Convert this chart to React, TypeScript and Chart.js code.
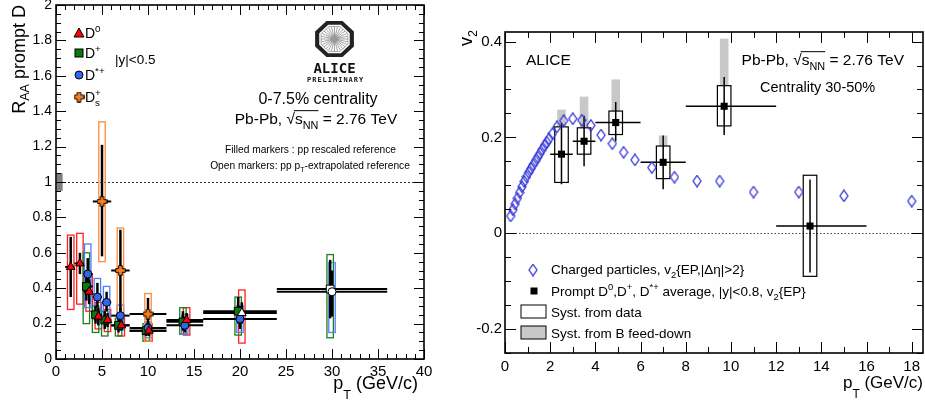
import React, { useEffect, useRef } from "react";
import { Chart, registerables } from "chart.js";

Chart.register(...registerables);

const FONT = "'Liberation Sans', Arial, Helvetica, sans-serif";

// ---------------- Left panel: R_AA prompt D (0-7.5%) ----------------
const leftXTicks = [0, 5, 10, 15, 20, 25, 30, 35, 40];
const leftYTicks = [0, 0.2, 0.4, 0.6, 0.8, 1, 1.2, 1.4, 1.6, 1.8, 2];

const d0Pt = [1.6, 2.6, 3.6, 4.6, 5.6, 7.1, 10.1, 14.2, 20.2];
const d0BinLo = [1, 2, 3, 4, 5, 6, 8, 12, 16];
const d0BinHi = [2, 3, 4, 5, 6, 8, 12, 16, 24];
const d0Raa = [0.52, 0.54, 0.38, 0.24, 0.22, 0.19, 0.16, 0.22, 0.26];
const d0StatLo = [0.35, 0.48, 0.31, 0.19, 0.18, 0.16, 0.13, 0.18, 0.2];
const d0StatHi = [0.69, 0.6, 0.45, 0.29, 0.26, 0.22, 0.19, 0.26, 0.32];
const d0SystLo = [0.28, 0.31, 0.27, 0.17, 0.155, 0.13, 0.1, 0.135, 0.09];
const d0SystHi = [0.7, 0.71, 0.47, 0.32, 0.28, 0.23, 0.2, 0.29, 0.39];
const d0Open = [false, false, false, false, false, false, false, false, true];

const dPlusPt = [3.3, 4.3, 5.3, 6.8, 9.8, 13.8, 19.8, 29.8];
const dPlusBinLo = [3, 4, 5, 6, 8, 12, 16, 24];
const dPlusBinHi = [4, 5, 6, 8, 12, 16, 24, 36];
const dPlusRaa = [0.41, 0.25, 0.22, 0.19, 0.16, 0.21, 0.27, 0.395];
const dPlusStatLo = [0.33, 0.2, 0.17, 0.15, 0.13, 0.16, 0.2, 0.23];
const dPlusStatHi = [0.5, 0.3, 0.27, 0.23, 0.19, 0.27, 0.35, 0.56];
const dPlusSystLo = [0.2, 0.15, 0.13, 0.13, 0.1, 0.14, 0.135, 0.12];
const dPlusSystHi = [0.6, 0.3, 0.27, 0.23, 0.2, 0.29, 0.35, 0.59];
const dPlusOpen = [false, false, false, false, false, false, false, true];

const dStarPt = [3.45, 4.5, 5.5, 7.0, 10.0, 14.0, 20.0, 30.0];
const dStarBinLo = [3, 4, 5, 6, 8, 12, 16, 24];
const dStarBinHi = [4, 5, 6, 8, 12, 16, 24, 36];
const dStarRaa = [0.48, 0.35, 0.32, 0.245, 0.175, 0.19, 0.226, 0.38];
const dStarStatLo = [0.39, 0.29, 0.27, 0.2, 0.14, 0.15, 0.17, 0.24];
const dStarStatHi = [0.57, 0.43, 0.38, 0.29, 0.21, 0.24, 0.3, 0.5];
const dStarSystLo = [0.29, 0.22, 0.2, 0.165, 0.12, 0.14, 0.15, 0.15];
const dStarSystHi = [0.65, 0.455, 0.41, 0.305, 0.21, 0.25, 0.3, 0.545];
const dStarOpen = [false, false, false, false, false, false, false, true];

const dsPt = [5.0, 7.0, 10.0];
const dsBinLo = [4, 6, 8];
const dsBinHi = [6, 8, 12];
const dsRaa = [0.89, 0.5, 0.254];
const dsStatLo = [0.58, 0.27, 0.16];
const dsStatHi = [1.21, 0.73, 0.345];
const dsSystLo = [0.55, 0.25, 0.1];
const dsSystHi = [1.34, 0.74, 0.37];
const dsOpen = [false, false, false];

// ---------------- Right panel: v2 (30-50%) ----------------
const v2XTicks = [0, 2, 4, 6, 8, 10, 12, 14, 16, 18];
const v2YTicks = [-0.2, 0, 0.2, 0.4];

const chPt = [0.25, 0.35, 0.45, 0.55, 0.65, 0.75, 0.85, 0.95, 1.05, 1.15, 1.25, 1.35, 1.45, 1.55, 1.65, 1.75, 1.85, 1.95, 2.1, 2.3, 2.6, 3.0, 3.4, 3.8, 4.25, 4.75, 5.25, 5.75, 6.5, 7.5, 8.5, 9.5, 11, 13, 15, 18];
const chV2 = [0.036, 0.049, 0.061, 0.073, 0.085, 0.097, 0.108, 0.118, 0.127, 0.135, 0.143, 0.151, 0.159, 0.167, 0.175, 0.183, 0.19, 0.197, 0.208, 0.222, 0.235, 0.239, 0.236, 0.225, 0.205, 0.187, 0.169, 0.153, 0.137, 0.117, 0.109, 0.109, 0.086, 0.086, 0.078, 0.067];

const dmPt = [2.5, 3.5, 4.9, 7.0, 9.7, 13.5];
const dmBinLo = [2, 3, 4, 6, 8, 12];
const dmBinHi = [3, 4, 6, 8, 12, 16];
const dmV2 = [0.165, 0.192, 0.231, 0.148, 0.265, 0.015];
const dmStatLo = [0.102, 0.14, 0.192, 0.092, 0.205, -0.082];
const dmStatHi = [0.23, 0.245, 0.274, 0.204, 0.326, 0.112];
const dmSystLo = [0.106, 0.165, 0.206, 0.114, 0.224, -0.09];
const dmSystHi = [0.222, 0.22, 0.255, 0.182, 0.308, 0.121];
const dmFeedDownHi = [0.258, 0.285, 0.321, 0.204, 0.406, 0.121];

// ---------------- helpers ----------------
type Seg = { t: string; k?: "sub" | "sup"; na?: boolean; ol?: boolean; dy?: number };

function segFont(size: number, k?: string) {
  const fs = k ? size * 0.7 : size;
  return `${fs}px ${FONT}`;
}

function drawRich(ctx: CanvasRenderingContext2D, segs: Seg[], x: number, y: number, size: number, align = "left") {
  ctx.save();
  ctx.textAlign = "left";
  ctx.textBaseline = "alphabetic";
  const widths = segs.map((s) => {
    ctx.font = segFont(size, s.k);
    return ctx.measureText(s.t).width;
  });
  let total = 0;
  segs.forEach((s, i) => {
    if (!s.na) total += widths[i];
  });
  let cx = align === "center" ? x - total / 2 : align === "right" ? x - total : x;
  let olStart: number | null = null;
  let olEnd = 0;
  segs.forEach((s, i) => {
    ctx.font = segFont(size, s.k);
    const dy = s.dy !== undefined ? s.dy : s.k === "sub" ? size * 0.3 : s.k === "sup" ? -size * 0.42 : 0;
    ctx.fillText(s.t, cx, y + dy);
    if (s.ol) {
      if (olStart === null) olStart = cx;
      olEnd = cx + widths[i];
    }
    if (!s.na) cx += widths[i];
  });
  if (olStart !== null) {
    ctx.strokeStyle = ctx.fillStyle as string;
    ctx.lineWidth = 1;
    ctx.beginPath();
    ctx.moveTo(olStart - 1, y - size * 0.86);
    ctx.lineTo(olEnd, y - size * 0.86);
    ctx.stroke();
  }
  ctx.restore();
}

function drawFrame(ctx: CanvasRenderingContext2D, a: any, xs: any, ys: any, xMajor: number[], xStep: number, yMajor: number[], yStep: number, majLen: number, minLen: number) {
  ctx.save();
  ctx.strokeStyle = "#000";
  ctx.lineWidth = 1;
  ctx.beginPath();
  const isMaj = (arr: number[], v: number) => arr.some((m) => Math.abs(m - v) < 1e-6);
  for (let k = Math.ceil(xs.min / xStep - 1e-9); k * xStep <= xs.max + 1e-9; k++) {
    const v = k * xStep;
    const L = isMaj(xMajor, v) ? majLen : minLen;
    const px = Math.round(xs.getPixelForValue(v)) + 0.5;
    ctx.moveTo(px, a.bottom);
    ctx.lineTo(px, a.bottom - L);
    ctx.moveTo(px, a.top);
    ctx.lineTo(px, a.top + L);
  }
  for (let k = Math.ceil(ys.min / yStep - 1e-9); k * yStep <= ys.max + 1e-9; k++) {
    const v = k * yStep;
    const L = isMaj(yMajor, v) ? majLen : minLen;
    const py = Math.round(ys.getPixelForValue(v)) + 0.5;
    ctx.moveTo(a.left, py);
    ctx.lineTo(a.left + L, py);
    ctx.moveTo(a.right, py);
    ctx.lineTo(a.right - L, py);
  }
  ctx.stroke();
  ctx.lineWidth = 1.6;
  ctx.strokeRect(a.left, a.top, a.right - a.left, a.bottom - a.top);
  ctx.restore();
}

function makePlus(fill: string) {
  const c = document.createElement("canvas");
  c.width = 11;
  c.height = 11;
  const g = c.getContext("2d")!;
  const m = 5.5, a = 1.8, L = 4.8;
  const pts = [[m - a, m - L], [m + a, m - L], [m + a, m - a], [m + L, m - a], [m + L, m + a], [m + a, m + a], [m + a, m + L], [m - a, m + L], [m - a, m + a], [m - L, m + a], [m - L, m - a], [m - a, m - a]];
  g.beginPath();
  pts.forEach(([px, py], i) => (i ? g.lineTo(px, py) : g.moveTo(px, py)));
  g.closePath();
  g.fillStyle = fill;
  g.fill();
  g.strokeStyle = "#000";
  g.lineWidth = 1;
  g.stroke();
  return c;
}

function makeDiamond(color: string) {
  const c = document.createElement("canvas");
  c.width = 10;
  c.height = 13;
  const g = c.getContext("2d")!;
  g.beginPath();
  g.moveTo(5, 0.8);
  g.lineTo(9, 6.5);
  g.lineTo(5, 12.2);
  g.lineTo(1, 6.5);
  g.closePath();
  g.strokeStyle = color;
  g.lineWidth = 1.3;
  g.stroke();
  return c;
}

const fmt = (v: any) => String(Math.round(Number(v) * 100) / 100);

const RED = "#ff0000", RED_BOX = "#ff2020";
const GREEN = "#0a7a0a", GREEN_BOX = "#1e7d1e";
const BLUE = "#3366ee", BLUE_BOX = "#4d7fff";
const ORANGE = "#ff8020", ORANGE_BOX = "#ff8a3a";
const DIAMOND = "#3838d8";

function leftSpecies() {
  return [
    { pt: d0Pt, lo: d0BinLo, hi: d0BinHi, val: d0Raa, sLo: d0StatLo, sHi: d0StatHi, yLo: d0SystLo, yHi: d0SystHi, box: RED_BOX },
    { pt: dPlusPt, lo: dPlusBinLo, hi: dPlusBinHi, val: dPlusRaa, sLo: dPlusStatLo, sHi: dPlusStatHi, yLo: dPlusSystLo, yHi: dPlusSystHi, box: GREEN_BOX },
    { pt: dStarPt, lo: dStarBinLo, hi: dStarBinHi, val: dStarRaa, sLo: dStarStatLo, sHi: dStarStatHi, yLo: dStarSystLo, yHi: dStarSystHi, box: BLUE_BOX },
    { pt: dsPt, lo: dsBinLo, hi: dsBinHi, val: dsRaa, sLo: dsStatLo, sHi: dsStatHi, yLo: dsSystLo, yHi: dsSystHi, box: ORANGE_BOX },
  ];
}

function drawAliceLogo(ctx: CanvasRenderingContext2D, cx: number, cy: number) {
  ctx.save();
  const oct = (rad: number) => {
    ctx.beginPath();
    for (let k = 0; k < 8; k++) {
      const ang = Math.PI / 8 + (k * Math.PI) / 4;
      const px = cx + rad * Math.cos(ang);
      const py = cy + rad * Math.sin(ang) * 0.93;
      if (k) ctx.lineTo(px, py);
      else ctx.moveTo(px, py);
    }
    ctx.closePath();
  };
  oct(21);
  ctx.fillStyle = "#222";
  ctx.fill();
  oct(16.5);
  ctx.fillStyle = "#fff";
  ctx.fill();
  oct(14.5);
  ctx.strokeStyle = "#777";
  ctx.lineWidth = 0.6;
  ctx.stroke();
  ctx.strokeStyle = "#666";
  ctx.lineWidth = 0.6;
  for (let k = 0; k < 28; k++) {
    const ang = (k * Math.PI * 2) / 28;
    ctx.beginPath();
    ctx.moveTo(cx + 2 * Math.cos(ang), cy + 2 * Math.sin(ang));
    ctx.lineTo(cx + 13.5 * Math.cos(ang), cy + 12.5 * Math.sin(ang));
    ctx.stroke();
  }
  ctx.fillStyle = "#999";
  ctx.beginPath();
  ctx.arc(cx, cy, 2.5, 0, Math.PI * 2);
  ctx.fill();
  ctx.fillStyle = "#111";
  ctx.textAlign = "center";
  ctx.font = "bold 14px 'DejaVu Sans Mono', 'Liberation Mono', monospace";
  ctx.fillText("ALICE", cx, cy + 34);
  ctx.font = "bold 7px 'DejaVu Sans Mono', 'Liberation Mono', monospace";
  const word = "PRELIMINARY";
  const x0 = cx - 28;
  for (let i = 0; i < word.length; i++) ctx.fillText(word[i], x0 + 2.6 + i * 5.2, cy + 43);
  ctx.restore();
}

function makeLeftConfig(plus: HTMLCanvasElement): any {
  const species = leftSpecies();
  const plugin = {
    id: "leftDecor",
    beforeDatasetsDraw(chart: any) {
      const { ctx, chartArea: a } = chart;
      const xs = chart.scales.x, ys = chart.scales.y;
      ctx.save();
      ctx.beginPath();
      ctx.rect(a.left, a.top, a.right - a.left, a.bottom - a.top);
      ctx.clip();
      // unity line
      ctx.setLineDash([2, 2]);
      ctx.strokeStyle = "#333";
      ctx.lineWidth = 1;
      ctx.beginPath();
      const y1 = Math.round(ys.getPixelForValue(1)) + 0.5;
      ctx.moveTo(a.left, y1);
      ctx.lineTo(a.right, y1);
      ctx.stroke();
      ctx.setLineDash([]);
      // normalisation box
      ctx.fillStyle = "#7f7f7f";
      const nx0 = xs.getPixelForValue(0.08), nx1 = xs.getPixelForValue(0.72);
      const ny0 = ys.getPixelForValue(1.05), ny1 = ys.getPixelForValue(0.95);
      ctx.fillRect(nx0, ny0, nx1 - nx0, ny1 - ny0);
      // syst boxes
      ctx.lineWidth = 1.3;
      species.forEach((s) => {
        ctx.strokeStyle = s.box;
        s.pt.forEach((p, i) => {
          const bx0 = xs.getPixelForValue(p - 0.35), bx1 = xs.getPixelForValue(p + 0.35);
          const by0 = ys.getPixelForValue(s.yHi[i]), by1 = ys.getPixelForValue(s.yLo[i]);
          ctx.strokeRect(bx0, by0, bx1 - bx0, by1 - by0);
        });
      });
      // error bars
      ctx.strokeStyle = "#000";
      species.forEach((s) => {
        s.pt.forEach((p, i) => {
          const py = ys.getPixelForValue(s.val[i]);
          ctx.lineWidth = 2;
          ctx.beginPath();
          ctx.moveTo(xs.getPixelForValue(s.lo[i]), py);
          ctx.lineTo(xs.getPixelForValue(s.hi[i]), py);
          ctx.stroke();
          ctx.lineWidth = 2.5;
          const px = xs.getPixelForValue(p);
          ctx.beginPath();
          ctx.moveTo(px, ys.getPixelForValue(s.sLo[i]));
          ctx.lineTo(px, ys.getPixelForValue(s.sHi[i]));
          ctx.stroke();
        });
      });
      ctx.restore();
    },
    afterDraw(chart: any) {
      const { ctx, chartArea: a } = chart;
      const xs = chart.scales.x, ys = chart.scales.y;
      drawFrame(ctx, a, xs, ys, leftXTicks, 1, leftYTicks, 0.05, 10, 5);
      ctx.save();
      ctx.fillStyle = "#000";
      // legend markers
      ctx.strokeStyle = "#000";
      ctx.lineWidth = 1;
      ctx.fillStyle = RED;
      ctx.beginPath();
      ctx.moveTo(79, 28);
      ctx.lineTo(84, 37);
      ctx.lineTo(74, 37);
      ctx.closePath();
      ctx.fill();
      ctx.stroke();
      ctx.fillStyle = GREEN;
      ctx.fillRect(75, 49, 8, 8);
      ctx.strokeRect(75, 49, 8, 8);
      ctx.fillStyle = BLUE;
      ctx.beginPath();
      ctx.arc(79, 75, 4, 0, Math.PI * 2);
      ctx.fill();
      ctx.stroke();
      ctx.drawImage(plus, 79 - 5.5, 97 - 5.5);
      ctx.fillStyle = "#000";
      drawRich(ctx, [{ t: "D" }, { t: "0", k: "sup" }], 85, 38, 14);
      drawRich(ctx, [{ t: "D" }, { t: "+", k: "sup" }], 85, 58, 14);
      drawRich(ctx, [{ t: "D" }, { t: "*+", k: "sup" }], 85, 80, 14);
      drawRich(ctx, [{ t: "D" }, { t: "+", k: "sup", na: true }, { t: "s", k: "sub" }], 85, 102, 14);
      drawRich(ctx, [{ t: "|y|<0.5" }], 115, 64, 13.5);
      // logo
      drawAliceLogo(ctx, 334.5, 39);
      // texts
      drawRich(ctx, [{ t: "0-7.5% centrality" }], 318, 104, 16, "center");
      drawRich(ctx, [{ t: "Pb-Pb, " }, { t: "\u221A" }, { t: "s", ol: true }, { t: "NN", k: "sub", ol: true }, { t: " = 2.76 TeV" }], 316, 124, 15.5, "center");
      drawRich(ctx, [{ t: "Filled markers : pp rescaled reference" }], 310.5, 153, 10.2, "center");
      drawRich(ctx, [{ t: "Open markers: pp p" }, { t: "T", k: "sub" }, { t: "-extrapolated reference" }], 310, 168.5, 10.2, "center");
      // axis titles
      drawRich(ctx, [{ t: "p" }, { t: "T", k: "sub", dy: 10 }, { t: " (GeV/c)" }], 418, 389, 18, "right");
      ctx.translate(25, 5);
      ctx.rotate(-Math.PI / 2);
      drawRich(ctx, [{ t: "R" }, { t: "AA", k: "sub", dy: 4 }, { t: " prompt D" }], 0, 0, 18, "right");
      ctx.restore();
    },
  };

  const mk = (pt: number[], val: number[], open: boolean[], fill: string, style: any, r: number) => ({
    data: pt.map((x, i) => ({ x, y: val[i] })),
    pointStyle: style,
    pointRadius: r,
    pointBackgroundColor: open.map((o) => (o ? "#ffffff" : fill)),
    pointBorderColor: "#000",
    pointBorderWidth: 1,
    showLine: false,
  });

  return {
    type: "scatter",
    data: {
      datasets: [
        mk(d0Pt, d0Raa, d0Open, RED, "triangle", 5),
        mk(dsPt, dsRaa, dsOpen, ORANGE, plus, 6),
        mk(dStarPt, dStarRaa, dStarOpen, BLUE, "circle", 4),
        mk(dPlusPt, dPlusRaa, dPlusOpen, GREEN, "rect", 5.5),
      ],
    },
    options: {
      animation: false,
      responsive: false,
      maintainAspectRatio: false,
      events: [],
      layout: { autoPadding: false, padding: { left: 0, right: 36, top: 5, bottom: 0 } },
      plugins: { legend: { display: false }, tooltip: { enabled: false } },
      scales: {
        x: {
          type: "linear",
          min: 0,
          max: 40,
          grid: { display: false, drawTicks: false },
          border: { display: false },
          ticks: { padding: 4, color: "#000", font: { family: FONT, size: 15 }, autoSkip: false, maxRotation: 0, callback: fmt },
          afterBuildTicks: (s: any) => {
            s.ticks = leftXTicks.map((v) => ({ value: v }));
          },
          afterFit: (s: any) => {
            s.height = 47;
            s.paddingLeft = 0;
            s.paddingRight = 0;
          },
        },
        y: {
          type: "linear",
          min: 0,
          max: 2,
          grid: { display: false, drawTicks: false },
          border: { display: false },
          ticks: { padding: 4, color: "#000", font: { family: FONT, size: 14 }, autoSkip: false, callback: fmt },
          afterBuildTicks: (s: any) => {
            s.ticks = leftYTicks.map((v) => ({ value: v }));
          },
          afterFit: (s: any) => {
            s.width = 56;
            s.paddingTop = 0;
            s.paddingBottom = 0;
          },
        },
      },
    },
    plugins: [plugin],
  };
}

function makeRightConfig(diamond: HTMLCanvasElement): any {
  const plugin = {
    id: "rightDecor",
    beforeDatasetsDraw(chart: any) {
      const { ctx, chartArea: a } = chart;
      const xs = chart.scales.x, ys = chart.scales.y;
      ctx.save();
      ctx.beginPath();
      ctx.rect(a.left, a.top, a.right - a.left, a.bottom - a.top);
      ctx.clip();
      // zero line
      ctx.setLineDash([1.5, 2]);
      ctx.strokeStyle = "#444";
      ctx.lineWidth = 1;
      const y0 = Math.round(ys.getPixelForValue(0)) + 0.5;
      ctx.beginPath();
      ctx.moveTo(a.left, y0);
      ctx.lineTo(a.right, y0);
      ctx.stroke();
      ctx.setLineDash([]);
      // feed-down bands
      ctx.fillStyle = "#c8c8c8";
      dmPt.forEach((p, i) => {
        const gx0 = xs.getPixelForValue(p - 0.19), gx1 = xs.getPixelForValue(p + 0.19);
        const gy0 = ys.getPixelForValue(dmFeedDownHi[i]), gy1 = ys.getPixelForValue(dmSystHi[i]);
        if (gy1 > gy0) ctx.fillRect(gx0, gy0, gx1 - gx0, gy1 - gy0);
      });
      // syst boxes
      ctx.strokeStyle = "#000";
      ctx.lineWidth = 1.2;
      dmPt.forEach((p, i) => {
        const bx0 = xs.getPixelForValue(p - 0.3), bx1 = xs.getPixelForValue(p + 0.3);
        const by0 = ys.getPixelForValue(dmSystHi[i]), by1 = ys.getPixelForValue(dmSystLo[i]);
        ctx.strokeRect(bx0, by0, bx1 - bx0, by1 - by0);
      });
      // error bars
      ctx.lineWidth = 1.5;
      dmPt.forEach((p, i) => {
        const py = ys.getPixelForValue(dmV2[i]);
        ctx.beginPath();
        ctx.moveTo(xs.getPixelForValue(dmBinLo[i]), py);
        ctx.lineTo(xs.getPixelForValue(dmBinHi[i]), py);
        const px = xs.getPixelForValue(p);
        ctx.moveTo(px, ys.getPixelForValue(dmStatLo[i]));
        ctx.lineTo(px, ys.getPixelForValue(dmStatHi[i]));
        ctx.stroke();
      });
      ctx.restore();
    },
    afterDraw(chart: any) {
      const { ctx, chartArea: a } = chart;
      const xs = chart.scales.x, ys = chart.scales.y;
      drawFrame(ctx, a, xs, ys, v2XTicks, 1, v2YTicks, 0.05, 11, 6);
      ctx.save();
      ctx.fillStyle = "#000";
      drawRich(ctx, [{ t: "ALICE" }], 66, 65, 15.5);
      drawRich(ctx, [{ t: "Pb-Pb, " }, { t: "\u221A" }, { t: "s", ol: true }, { t: "NN", k: "sub", ol: true }, { t: " = 2.76 TeV" }], 444, 65, 15.5, "right");
      drawRich(ctx, [{ t: "Centrality 30-50%" }], 300, 92, 14.5);
      // legend
      ctx.drawImage(diamond, 73 - 5, 270 - 6.5);
      ctx.fillRect(74 - 3.5, 291 - 3.5, 7, 7);
      ctx.strokeStyle = "#000";
      ctx.lineWidth = 1;
      ctx.strokeRect(61, 305, 25, 13);
      ctx.fillStyle = "#c8c8c8";
      ctx.fillRect(61, 326, 25, 13);
      ctx.strokeRect(61, 326, 25, 13);
      ctx.fillStyle = "#000";
      drawRich(ctx, [{ t: "Charged particles, v" }, { t: "2", k: "sub" }, { t: "{EP,|\u0394\u03B7|>2}" }], 91, 274, 13.5);
      drawRich(ctx, [{ t: "Prompt D" }, { t: "0", k: "sup" }, { t: ",D" }, { t: "+", k: "sup" }, { t: ", D" }, { t: "*+", k: "sup" }, { t: " average, |y|<0.8, v" }, { t: "2", k: "sub" }, { t: "{EP}" }], 91, 295.5, 13.5);
      drawRich(ctx, [{ t: "Syst. from data" }], 91, 316.5, 13.5);
      drawRich(ctx, [{ t: "Syst. from B feed-down" }], 91, 337.5, 13.5);
      // axis titles
      drawRich(ctx, [{ t: "p" }, { t: "T", k: "sub", dy: 10 }, { t: " (GeV/c)" }], 463, 388, 17, "right");
      ctx.translate(12, 30);
      ctx.rotate(-Math.PI / 2);
      drawRich(ctx, [{ t: "v" }, { t: "2", k: "sub" }], 0, 0, 18, "right");
      ctx.restore();
    },
  };

  return {
    type: "scatter",
    data: {
      datasets: [
        {
          data: dmPt.map((x, i) => ({ x, y: dmV2[i] })),
          pointStyle: "rect",
          pointRadius: 5,
          pointBackgroundColor: "#000",
          pointBorderColor: "#000",
          pointBorderWidth: 0,
          showLine: false,
        },
        {
          data: chPt.map((x, i) => ({ x, y: chV2[i] })),
          pointStyle: diamond,
          pointRadius: 5,
          showLine: false,
        },
      ],
    },
    options: {
      animation: false,
      responsive: false,
      maintainAspectRatio: false,
      events: [],
      layout: { autoPadding: false, padding: { left: 0, right: 2, top: 32, bottom: 0 } },
      plugins: { legend: { display: false }, tooltip: { enabled: false } },
      scales: {
        x: {
          type: "linear",
          min: 0,
          max: 18.5,
          grid: { display: false, drawTicks: false },
          border: { display: false },
          ticks: { padding: 5, color: "#000", font: { family: FONT, size: 15 }, autoSkip: false, maxRotation: 0, callback: fmt },
          afterBuildTicks: (s: any) => {
            s.ticks = v2XTicks.map((v) => ({ value: v }));
          },
          afterFit: (s: any) => {
            s.height = 53;
            s.paddingLeft = 0;
            s.paddingRight = 0;
          },
        },
        y: {
          type: "linear",
          min: -0.25,
          max: 0.42,
          grid: { display: false, drawTicks: false },
          border: { display: false },
          ticks: { padding: 3, color: "#000", font: { family: FONT, size: 15 }, autoSkip: false, callback: fmt },
          afterBuildTicks: (s: any) => {
            s.ticks = v2YTicks.map((v) => ({ value: v }));
          },
          afterFit: (s: any) => {
            s.width = 45;
            s.paddingTop = 0;
            s.paddingBottom = 0;
          },
        },
      },
    },
    plugins: [plugin],
  };
}

export default function App() {
  const leftRef = useRef<HTMLCanvasElement>(null);
  const rightRef = useRef<HTMLCanvasElement>(null);
  useEffect(() => {
    const plus = makePlus(ORANGE);
    const diamond = makeDiamond(DIAMOND);
    const c1 = new Chart(leftRef.current!, makeLeftConfig(plus));
    const c2 = new Chart(rightRef.current!, makeRightConfig(diamond));
    return () => {
      c1.destroy();
      c2.destroy();
    };
  }, []);
  return (
    <div style={{ position: "absolute", left: 0, top: 0, width: 925, height: 406, background: "#fff" }}>
      <canvas ref={leftRef} width={460} height={406} style={{ position: "absolute", left: 0, top: 0, width: 460, height: 406 }} />
      <canvas ref={rightRef} width={465} height={406} style={{ position: "absolute", left: 460, top: 0, width: 465, height: 406 }} />
    </div>
  );
}
